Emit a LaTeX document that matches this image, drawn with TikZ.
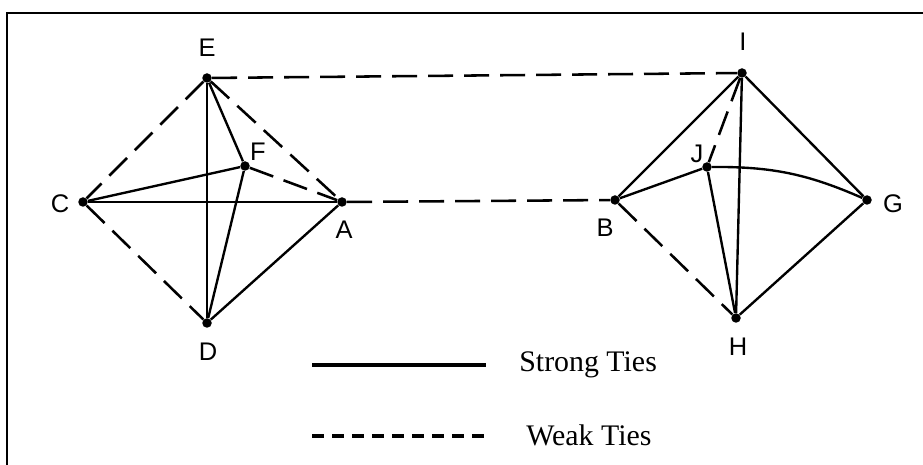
\documentclass[tikz,border=0pt]{standalone}
\usepackage{fontspec}
\setmainfont{Liberation Serif}
\newfontfamily\labelfont{Liberation Sans}
\usetikzlibrary{positioning}

\begin{document}
\begin{tikzpicture}[x=0.02cm, y=-0.02cm,
    actor/.style={circle, fill=black, inner sep=0pt, minimum size=0.19cm},
    lbl/.style={font=\labelfont\fontsize{14.5}{16}\selectfont, inner sep=0pt},
    strongtie/.style={line width=1.35pt},
    weaktie/.style={line width=1.45pt, dash pattern=on 0.5cm off 0.22cm},
    legtext/.style={font=\fontsize{17}{20}\selectfont, anchor=west, inner sep=0pt}
]
    \useasboundingbox (0,0) rectangle (923,465);
    % frame: only top and left edges show
    \draw[line width=1.1pt] (7,465) -- (7,13) -- (923,13);

    % Cluster 1
    \node[actor] (E) at (207,78) {};
    \node[actor] (F) at (245,166) {};
    \node[actor] (C) at (83,202) {};
    \node[actor] (A) at (342,202) {};
    \node[actor] (D) at (207,323) {};
    \node[lbl] (lE) at (207,48) {E};
    \node[lbl] (lF) at (258,152) {F};
    \node[lbl] (lC) at (60,204) {C};
    \node[lbl] (lA) at (344,230) {A};
    \node[lbl] (lD) at (208,352) {D};

    % Cluster 2
    \node[actor] (I) at (742,73) {};
    \node[actor] (J) at (707,167) {};
    \node[actor] (B) at (615,200) {};
    \node[actor] (G) at (867,200) {};
    \node[actor] (H) at (736,318) {};
    \node[lbl] (lI) at (743,42) {I};
    \node[lbl] (lJ) at (697,154) {J};
    \node[lbl] (lB) at (605,228) {B};
    \node[lbl] (lG) at (893,204) {G};
    \node[lbl] (lH) at (738,347) {H};

    % strong ties
    \draw[strongtie] (E) -- (F);
    \draw[strongtie] (E) -- (D);
    \draw[strongtie] (C) -- (F);
    \draw[strongtie] (C) -- (A);
    \draw[strongtie] (D) -- (F);
    \draw[strongtie] (D) -- (A);
    \draw[strongtie] (I) -- (B);
    \draw[strongtie] (I) -- (G);
    \draw[strongtie] (I) -- (H);
    \draw[strongtie] (B) -- (J);
    \draw[strongtie] (J) to[bend left=12] (G);
    \draw[strongtie] (J) -- (H);
    \draw[strongtie] (G) -- (H);

    % weak ties
    \draw[weaktie] (E) -- (I);
    \draw[weaktie] (A) -- (B);
    \draw[weaktie] (E) -- (C);
    \draw[weaktie] (C) -- (D);
    \draw[weaktie] (E) -- (A);
    \draw[weaktie] (F) -- (A);
    \draw[weaktie] (I) -- (J);
    \draw[weaktie] (B) -- (H);

    % Legend
    \coordinate (s1) at (312,365);
    \coordinate (s2) at (486,365);
    \coordinate (w1) at (312,436);
    \coordinate (w2) at (486,436);
    \draw[line width=1.8pt] (s1) -- (s2);
    \draw[line width=2.2pt, dash pattern=on 0.24cm off 0.16cm] (w1) -- (w2);
    \node[legtext] (strong) at (519,365) {Strong Ties};
    \node[legtext] (weak) at (526,435) {Weak Ties};
\end{tikzpicture}
\end{document}
